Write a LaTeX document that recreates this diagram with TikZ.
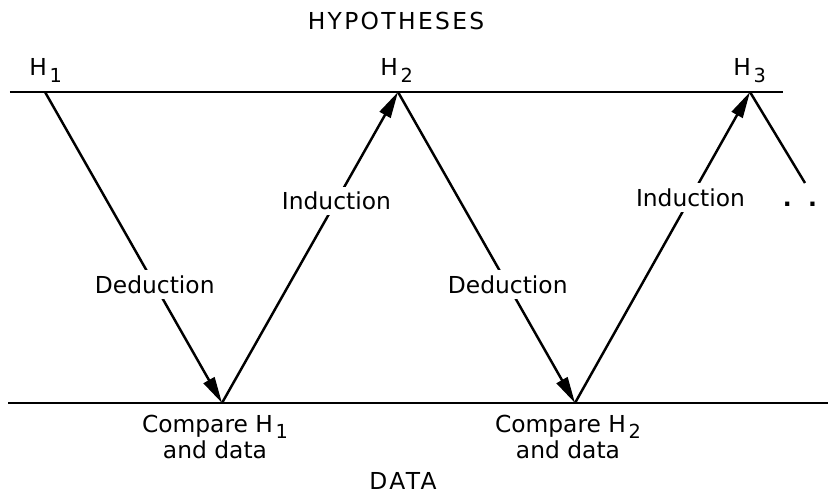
\documentclass[tikz,border=0pt]{standalone}
\usepackage{fontspec}
\setmainfont{DejaVu Sans}
\newfontfamily\capsfont[LetterSpace=10]{DejaVu Sans}
\usetikzlibrary{arrows.meta, positioning}
\newcommand{\hsub}[1]{\kern1.5pt\raisebox{-3.5pt}{\fontsize{11}{11}\selectfont #1}}

\begin{document}
\begin{tikzpicture}[
  level/.style={line width=1.4pt},
  arr/.style={line width=1.4pt, -{Triangle[length=15pt, width=7pt]}},
  word/.style={font=\fontsize{13.3}{16}\selectfont, fill=white, inner sep=3pt},
  hyp/.style={font=\fontsize{13.3}{16}\selectfont, inner sep=0pt,
    anchor=base west},
  cmp/.style={font=\fontsize{13.3}{12.5}\selectfont, align=center,
    inner sep=0pt, anchor=north},
  title/.style={font=\capsfont\fontsize{13.3}{16}\selectfont,
    inner sep=0pt, anchor=base}
]
  \useasboundingbox (0,0) rectangle (16.56,9.94);

  % Levels
  \coordinate (tl) at (0.2, 8.1);
  \coordinate (tr) at (15.66, 8.1);
  \coordinate (bl) at (0.16, 1.88);
  \coordinate (br) at (16.56, 1.88);
  \draw[level] (tl) -- (tr);
  \draw[level] (bl) -- (br);

  % Turning points
  \coordinate (h1) at (0.9, 8.1);
  \coordinate (b1) at (4.44, 1.88);
  \coordinate (h2) at (7.96, 8.1);
  \coordinate (b2) at (11.5, 1.88);
  \coordinate (h3) at (15.0, 8.1);
  \coordinate (next) at (16.1, 6.28);

  % Titles
  \node[title] (hyps) at (7.92, 9.34) {HYPOTHESES};
  \node[title] (data) at (8.06, 0.14) {DATA};

  % Hypotheses
  \node[hyp] (lh1) at (0.58, 8.42) {H\hsub{1}};
  \node[hyp] (lh2) at (7.6, 8.42) {H\hsub{2}};
  \node[hyp] (lh3) at (14.66, 8.42) {H\hsub{3}};

  % Cycle
  \draw[arr] (h1) -- node[word, pos=0.62] (ded1) {Deduction} (b1);
  \draw[arr] (b1) -- node[word, pos=0.65] (ind1) {Induction} (h2);
  \draw[arr] (h2) -- node[word, pos=0.62] (ded2) {Deduction} (b2);
  \draw[arr] (b2) -- node[word, pos=0.66] (ind2) {Induction} (h3);
  \draw[level] (h3) -- (next);
  \node[font=\fontsize{13.3}{16}\selectfont\bfseries, inner sep=0pt]
    (dots) at (16.0, 5.85) {.\ \ .};

  % Comparisons
  \node[cmp] (cmp1) at ([xshift=-0.14cm, yshift=-0.24cm]b1)
    {Compare H\hsub{1}\\and data};
  \node[cmp] (cmp2) at ([xshift=-0.14cm, yshift=-0.24cm]b2)
    {Compare H\hsub{2}\\and data};
\end{tikzpicture}
\end{document}
